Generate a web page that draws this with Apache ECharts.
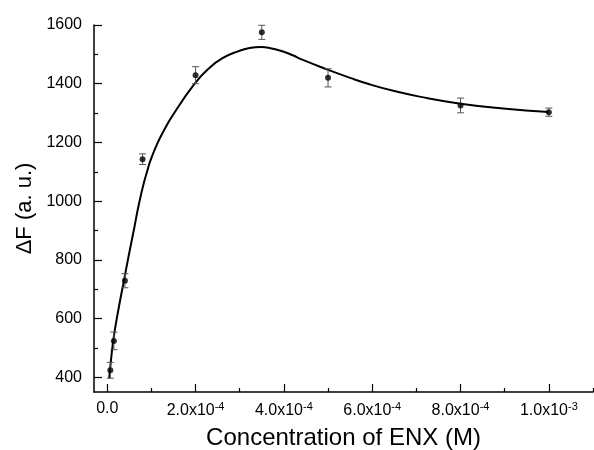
<!DOCTYPE html>
<html>
<head>
<meta charset="utf-8">
<script src="https://cdn.jsdelivr.net/npm/echarts@6/dist/echarts.min.js"></script>
<style>
  html, body { margin: 0; padding: 0; background: #fff; }
  #chart { width: 594px; height: 450px; }
</style>
</head>
<body>
<div id="chart"></div>
<script>
// Measured points: ENX concentration (M), fluorescence change and its error
const concentration = [7e-6, 1.5e-5, 4e-5, 8e-5, 2e-4, 3.5e-4, 5e-4, 8e-4, 1e-3];
const deltaF = [424, 524, 729, 1143, 1429, 1575, 1420, 1326, 1303];
const deltaFError = [27, 30, 24, 18, 29, 24, 31, 25, 14];

// Fitted curve through the measurements
const fitX = [4.5e-6, 6.2e-6, 1.38e-5, 2.52e-5, 3.82e-5, 4.8e-5, 6.0e-5, 7.1e-5, 8.25e-5,
              9.2e-5, 9.77e-5, 1.13e-4, 1.28e-4, 1.48e-4, 1.98e-4, 2.3e-4, 2.61e-4, 2.99e-4,
              3.2e-4, 3.49e-4, 3.67e-4, 3.98e-4, 4.2e-4, 4.43e-4, 4.99e-4, 5.5e-4, 5.94e-4,
              6.5e-4, 7.07e-4, 8.0e-4, 8.96e-4, 1.0e-3];
const fitY = [397, 425, 527, 630, 732, 810, 900, 985, 1060,
              1110, 1138, 1195, 1240, 1292, 1400, 1452, 1487, 1512,
              1521, 1525, 1522, 1510, 1497, 1481, 1448, 1420, 1398,
              1375, 1356, 1332, 1316, 1304];

// Axis ticks and their labels
const xMajorTicks = [0, 2e-4, 4e-4, 6e-4, 8e-4, 1e-3];
const xTickText = ['0.0', '2.0x10{sup|-4}', '4.0x10{sup|-4}', '6.0x10{sup|-4}', '8.0x10{sup|-4}', '1.0x10{sup|-3}'];
const xMinorTicks = [1e-4, 3e-4, 5e-4, 7e-4, 9e-4, 1.1e-3];
const yMajorTicks = [400, 600, 800, 1000, 1200, 1400, 1600];
const yMinorTicks = [500, 700, 900, 1100, 1300, 1500];

const FONT = '"Liberation Sans", Arial, sans-serif';
const X_MIN = -3e-5, X_MAX = 1.1e-3, Y_MIN = 350, Y_MAX = 1600;

const chart = echarts.init(document.getElementById('chart'), null, { renderer: 'canvas' });

const axisLineStyle = { color: '#000', width: 1.5 };

function xLabel(v) {
  const i = xMajorTicks.findIndex(t => Math.abs(t - v) < 1e-9);
  return i >= 0 ? xTickText[i] : '';
}

const points = concentration.map((x, i) => [x, deltaF[i]]);
const bars = concentration.map((x, i) => [x, deltaF[i] - deltaFError[i], deltaF[i] + deltaFError[i]]);
const fit = fitX.map((x, i) => [x, fitY[i]]);

chart.setOption({
  animation: false,
  backgroundColor: '#fff',
  textStyle: { fontFamily: FONT, color: '#000' },
  grid: { left: 94, right: 1, top: 25, bottom: 58, containLabel: false, outerBoundsMode: 'none' },
  xAxis: [
    {
      type: 'value', min: X_MIN, max: X_MAX, position: 'bottom',
      axisLine: { show: true, onZero: false, lineStyle: axisLineStyle },
      axisTick: { show: true, inside: true, length: 8, customValues: xMajorTicks, lineStyle: { color: '#000', width: 1.2 } },
      axisLabel: {
        show: true, customValues: xMajorTicks, margin: 9, fontSize: 16, color: '#000', fontFamily: FONT,
        formatter: xLabel,
        rich: { sup: { fontSize: 11, verticalAlign: 'top', padding: [0, 0, 8, 0], color: '#000', fontFamily: FONT } }
      },
      splitLine: { show: false },
      name: 'Concentration of ENX (M)', nameLocation: 'middle', nameGap: 34,
      nameTextStyle: { fontSize: 24, color: '#000', fontFamily: FONT }
    },
    {
      type: 'value', min: X_MIN, max: X_MAX, position: 'bottom',
      axisLine: { show: false, onZero: false },
      axisTick: { show: true, inside: true, length: 4, customValues: xMinorTicks, lineStyle: { color: '#000', width: 1.2 } },
      axisLabel: { show: false },
      splitLine: { show: false }
    }
  ],
  yAxis: [
    {
      type: 'value', min: Y_MIN, max: Y_MAX, position: 'left',
      axisLine: { show: true, onZero: false, lineStyle: axisLineStyle },
      axisTick: { show: true, inside: true, length: 8, customValues: yMajorTicks, lineStyle: { color: '#000', width: 1.2 } },
      axisLabel: {
        show: true, customValues: yMajorTicks, margin: 12, fontSize: 16, color: '#000', fontFamily: FONT,
        formatter: v => String(v)
      },
      splitLine: { show: false },
      name: 'ΔF (a. u.)', nameLocation: 'middle', nameGap: 50,
      nameTextStyle: { fontSize: 22, color: '#000', fontFamily: FONT }
    },
    {
      type: 'value', min: Y_MIN, max: Y_MAX, position: 'left',
      axisLine: { show: false, onZero: false },
      axisTick: { show: true, inside: true, length: 4, customValues: yMinorTicks, lineStyle: { color: '#000', width: 1.2 } },
      axisLabel: { show: false },
      splitLine: { show: false }
    }
  ],
  series: [
    {
      name: 'fit', type: 'line', data: fit, smooth: 0.5, showSymbol: false,
      lineStyle: { color: '#000', width: 2 }, z: 2
    },
    {
      name: 'error', type: 'custom', data: bars, z: 3,
      renderItem: function (params, api) {
        const x = api.value(0);
        const lo = api.coord([x, api.value(1)]);
        const hi = api.coord([x, api.value(2)]);
        const cap = 3.5;
        const style = { stroke: '#555', lineWidth: 1, fill: null };
        return {
          type: 'group',
          children: [
            { type: 'line', shape: { x1: lo[0], y1: lo[1], x2: hi[0], y2: hi[1] }, style: style },
            { type: 'line', shape: { x1: lo[0] - cap, y1: lo[1], x2: lo[0] + cap, y2: lo[1] }, style: style },
            { type: 'line', shape: { x1: hi[0] - cap, y1: hi[1], x2: hi[0] + cap, y2: hi[1] }, style: style }
          ]
        };
      }
    },
    {
      name: 'data', type: 'scatter', data: points, symbol: 'circle', symbolSize: 6,
      itemStyle: { color: '#000' }, z: 4
    }
  ]
});
</script>
</body>
</html>
